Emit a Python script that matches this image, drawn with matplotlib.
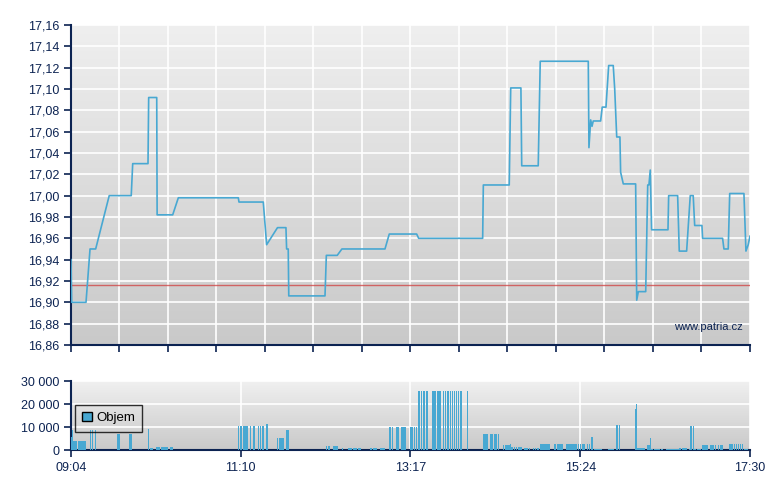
import numpy as np
import matplotlib
matplotlib.use("Agg")
import matplotlib.pyplot as plt
from matplotlib.patches import Patch
from matplotlib.ticker import FuncFormatter, MultipleLocator

plt.rcParams["font.family"] = ["Liberation Sans", "DejaVu Sans"]

NAVY = "#0c2352"
BLUE = "#48a8d2"

# minutes after 09:04 and last price
price_t = [0, 0.5, 11.2, 14.2, 18.4, 28.5, 44.9, 46.0, 57.4, 57.9, 63.9, 64.2, 75.8, 80.0,
           124.7, 125.2, 143.3, 145.8, 153.9, 160.2, 160.7, 161.9, 162.3, 189.3, 190.3,
           198.4, 201.9, 234.0, 237.2, 257.6, 259.1, 306.8, 307.3, 326.6, 327.7, 335.3,
           335.9, 348.2, 349.7, 385.5, 386.0, 387.3, 388.3, 389.2, 394.7, 395.9, 398.7,
           400.7, 404.1, 405.2, 406.7, 409.1, 409.6, 411.6, 420.8, 421.6, 422.8, 428.3,
           429.8, 430.7, 431.7, 432.7, 444.9, 445.4, 452.1, 453.3, 458.8, 461.5, 463.7,
           464.8, 470.2, 470.7, 485.6, 486.6, 489.8, 490.9, 501.5, 503.0, 504.7, 506.0]
price_v = [16.94, 16.90, 16.90, 16.95, 16.95, 17.00, 17.00, 17.03, 17.03, 17.092, 17.092,
           16.982, 16.982, 16.998, 16.998, 16.994, 16.994, 16.954, 16.970, 16.970, 16.95,
           16.95, 16.906, 16.906, 16.944, 16.944, 16.95, 16.95, 16.964, 16.964, 16.96,
           16.96, 17.01, 17.01, 17.101, 17.101, 17.028, 17.028, 17.126, 17.126, 17.045,
           17.071, 17.065, 17.07, 17.07, 17.083, 17.083, 17.122, 17.122, 17.10, 17.055,
           17.055, 17.022, 17.011, 17.011, 16.902, 16.91, 16.91, 17.01, 17.01, 17.024,
           16.968, 16.968, 17.00, 17.00, 16.948, 16.948, 17.00, 17.00, 16.972, 16.972,
           16.96, 16.96, 16.95, 16.95, 17.002, 17.002, 16.948, 16.954, 16.962]
prev_close = 16.916

# volume trades: start minute, end minute, shares
vol_start = [0, 0.75, 1.3, 5.0, 14.2, 15.6, 17.7, 34.3, 43.2, 57.4, 58.6, 59.8, 63.3, 66.8,
             73.6, 124.2, 125.9, 128.2, 133.4, 135.6, 139.4, 140.8, 142.6, 145.3, 153.5,
             155.0, 160.2, 190.0, 191.5, 195.2, 201.9, 206.4, 210.1, 213.9, 222.8, 225.0,
             230.3, 231.9, 237.0, 239.2, 242.2, 245.9, 252.6, 255.6, 257.1, 258.6, 260.8,
             262.3, 264.5, 269.0, 272.7, 277.2, 278.7, 280.2, 282.4, 283.9, 285.4, 286.9,
             288.4, 289.9, 295.1, 307.0, 312.2, 315.2, 318.2, 321.9, 323.4, 327.1, 328.1,
             330.2, 331.6, 333.1, 337.6, 341.3, 344.3, 345.8, 347.3, 349.5, 359.9, 362.2,
             368.9, 377.8, 379.3, 380.8, 384.5, 386.0, 387.5, 389.7, 400.2, 406.1, 408.4,
             420.1, 420.8, 421.6, 429.2, 431.2, 432.2, 434.4, 439.7, 443.4, 453.1, 455.4,
             460.6, 461.4, 463.6, 464.4, 466.6, 470.3, 476.2, 480.0, 482.2, 483.6, 490.3,
             494.0, 495.5, 497.0, 498.5, 500.0, 501.5]
vol_end = [1.3, 1.2, 4.5, 11.2, 14.9, 16.2, 18.4, 36.5, 45.5, 58.1, 59.4, 60.9, 66.3, 72.5,
           75.8, 125.2, 127.2, 131.9, 134.1, 136.9, 140.1, 141.6, 143.8, 146.8, 154.3,
           158.7, 162.5, 191.0, 193.0, 199.0, 202.7, 209.4, 213.1, 216.1, 224.3, 228.0,
           231.7, 234.0, 238.5, 240.0, 244.4, 249.6, 254.9, 256.3, 257.8, 260.0, 261.5,
           263.8, 266.0, 272.0, 275.7, 278.0, 279.4, 281.7, 283.2, 284.7, 286.2, 287.7,
           289.1, 291.4, 295.9, 310.8, 314.5, 317.5, 318.9, 322.7, 327.1, 327.9, 329.4,
           330.9, 332.4, 336.1, 340.6, 342.0, 345.0, 346.5, 348.7, 357.0, 361.4, 366.6,
           377.1, 378.6, 380.1, 383.0, 385.3, 386.8, 389.0, 395.7, 404.6, 407.6, 409.1,
           420.8, 421.6, 427.5, 431.2, 432.2, 433.7, 438.9, 441.2, 453.1, 454.6, 459.1,
           461.4, 462.9, 464.4, 465.9, 469.6, 474.8, 479.2, 480.7, 482.9, 485.9, 493.3,
           494.8, 496.3, 497.8, 499.3, 500.7, 504.5]
vol_val = [5800, 8700, 4000, 4000, 8700, 8700, 8700, 7000, 7000, 9100, 1000, 1000, 1450, 1450,
           1450, 10400, 10400, 10400, 10400, 10400, 10400, 10400, 10400, 11300, 5200,
           5200, 8700, 1700, 1700, 1700, 870, 870, 870, 870, 870, 870,
           870, 870, 10000, 10000, 10000, 10000, 10000, 10000, 10000, 25650, 25650,
           25650, 25650, 25650, 25650, 25650, 25650, 25650, 25650, 25650, 25650, 25650,
           25650, 25650, 25650, 7000, 7000, 7000, 7000, 2200, 2200, 2600, 1300,
           1300, 1300, 1300, 870, 870, 870, 870, 870, 2600, 2600, 2600,
           2600, 2600, 2600, 2600, 2600, 2600, 5650, 430, 430, 10900, 10900,
           17800, 20000, 870, 2200, 5200, 430, 430, 430, 430, 870, 870,
           430, 10400, 10400, 430, 430, 2200, 2200, 2200, 2200, 2200, 2600,
           2600, 2600, 2600, 2600, 2600, 430]

session_len = 506
time_labels = ["09:04", "11:10", "13:17", "15:24", "17:30"]


def gradient_bg(ax, top, bottom):
    grad = np.linspace(0, 1, 256).reshape(-1, 1)
    cmap = matplotlib.colors.LinearSegmentedColormap.from_list("bg", [top, bottom])
    ax.imshow(grad, aspect="auto", cmap=cmap, extent=[0, 1, 0, 1],
              transform=ax.transAxes, zorder=0)


def style_axes(ax):
    for s in ["top", "right"]:
        ax.spines[s].set_visible(False)
    for s in ["left", "bottom"]:
        ax.spines[s].set_color(NAVY)
        ax.spines[s].set_linewidth(1.5)
    ax.tick_params(colors=NAVY, labelcolor=NAVY, labelsize=9, length=5, width=1.2,
                   direction="out")
    ax.grid(True, color="white", linewidth=1.2, zorder=1)
    ax.set_axisbelow(True)


fig = plt.figure(figsize=(7.8, 4.9), dpi=100)
ax = fig.add_axes([0.091, 0.296, 0.8705, 0.653])
axv = fig.add_axes([0.091, 0.0816, 0.8705, 0.1408])

# price panel
gradient_bg(ax, "#efefef", "#c9c9c9")
style_axes(ax)
ax.plot(price_t, price_v, color=BLUE, linewidth=1.2, zorder=3)
ax.axhline(prev_close, color="#d04848", linewidth=1, alpha=0.8, zorder=2)
ax.set_xlim(0, session_len)
ax.set_ylim(16.86, 17.16)
ax.xaxis.set_major_locator(MultipleLocator(session_len / 14))
ax.yaxis.set_major_locator(MultipleLocator(0.02))
ax.set_xticklabels([])
ax.yaxis.set_major_formatter(FuncFormatter(lambda v, p: f"{v:.2f}".replace(".", ",")))
ax.text(0.99, 0.055, "www.patria.cz", transform=ax.transAxes, ha="right", va="center",
        color=NAVY, fontsize=8, zorder=4)

# volume panel
gradient_bg(axv, "#f0f0f0", "#c9c9c9")
style_axes(axv)
widths = [e - s for s, e in zip(vol_start, vol_end)]
axv.bar(vol_start, vol_val, width=widths, align="edge", color=BLUE, linewidth=0, zorder=3)
axv.set_xlim(0, session_len)
axv.set_ylim(0, 30000)
axv.set_xticks(np.linspace(0, session_len, len(time_labels)))
axv.set_xticklabels(time_labels)
axv.set_yticks([0, 10000, 20000, 30000])
axv.yaxis.set_major_formatter(FuncFormatter(lambda v, p: f"{int(v):,}".replace(",", " ")))
leg = axv.legend(handles=[Patch(facecolor=BLUE, edgecolor="black", label="Objem")],
                 loc="upper left", bbox_to_anchor=(0.006, 0.655), borderaxespad=0,
                 frameon=True, fancybox=False, fontsize=9.5, handlelength=0.7,
                 handleheight=0.7, handletextpad=0.35, borderpad=0.55)
leg.get_frame().set_edgecolor("black")
leg.get_frame().set_facecolor("none")
leg.get_frame().set_linewidth(1)
for t in leg.get_texts():
    t.set_color("black")

fig.savefig("out.png", dpi=100)
